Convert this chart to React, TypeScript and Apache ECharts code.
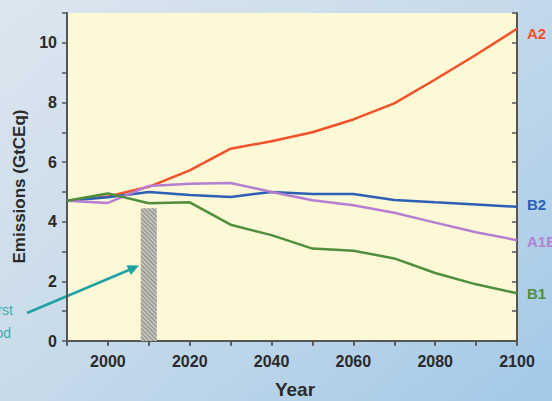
import React, { useEffect, useRef } from "react";
import * as echarts from "echarts";

const years = [1990, 2000, 2010, 2020, 2030, 2040, 2050, 2060, 2070, 2080, 2090, 2100];
const a2 = [4.7, 4.85, 5.17, 5.72, 6.45, 6.7, 7.0, 7.43, 7.97, 8.77, 9.6, 10.47];
const b2 = [4.7, 4.82, 5.0, 4.9, 4.83, 5.0, 4.93, 4.93, 4.73, 4.65, 4.58, 4.5];
const a1b = [4.7, 4.63, 5.2, 5.27, 5.3, 5.0, 4.72, 4.55, 4.3, 3.97, 3.65, 3.38];
const b1 = [4.7, 4.95, 4.62, 4.65, 3.9, 3.55, 3.1, 3.03, 2.77, 2.28, 1.9, 1.6];
const kyotoYear = 2010;
const kyotoValue = 4.45;

const FONT = "'Liberation Sans', Arial, sans-serif";

export default function App() {
  const ref = useRef<HTMLDivElement>(null);
  useEffect(() => {
    if (!ref.current) return;
    const chart = echarts.init(ref.current, undefined, { renderer: "svg" });
    const mk = (name: string, data: number[], color: string, offset: number[]) => ({
      name,
      type: "line",
      data: years.map((y, i) => [y, data[i]]),
      symbol: "none",
      lineStyle: { color, width: 2.5 },
      itemStyle: { color },
      z: 5,
      endLabel: {
        show: true,
        formatter: name,
        color,
        fontFamily: FONT,
        fontWeight: "bold",
        fontSize: 15,
        distance: 10,
        offset,
      },
    });
    const axisLine = { show: true, lineStyle: { color: "#555", width: 2 } };
    chart.setOption({
      animation: false,
      grid: {
        left: 67,
        right: 35,
        top: 13,
        bottom: 60,
        show: true,
        backgroundColor: "#fdf8d6",
        borderWidth: 0,
        containLabel: false,
        outerBoundsMode: "none",
      },
      xAxis: [
        {
          type: "value",
          min: 1990,
          max: 2100,
          interval: 10,
          position: "bottom",
          axisLine,
          axisTick: { show: true, inside: false, length: 5, lineStyle: { color: "#555", width: 1.5 } },
          splitLine: { show: false },
          axisLabel: {
            formatter: (v: number) => (v % 20 === 0 ? String(v) : ""),
            color: "#2a2a2a",
            fontFamily: FONT,
            fontWeight: "bold",
            fontSize: 16,
            margin: 12,
          },
          name: "Year",
          nameLocation: "middle",
          nameGap: 39,
          nameTextStyle: { color: "#2a2a2a", fontFamily: FONT, fontWeight: "bold", fontSize: 19, padding: [0, 0, 0, 6] },
        },
        {
          type: "value",
          min: 1990,
          max: 2100,
          interval: 10,
          position: "top",
          axisLine,
          axisTick: { show: true, inside: true, length: 4, lineStyle: { color: "#555", width: 1.5 } },
          splitLine: { show: false },
          axisLabel: { show: false },
        },
      ],
      yAxis: [
        {
          type: "value",
          min: 0,
          max: 11,
          interval: 1,
          position: "left",
          axisLine,
          axisTick: { show: true, inside: false, length: 5, lineStyle: { color: "#555", width: 1.5 } },
          splitLine: { show: false },
          axisLabel: {
            formatter: (v: number) => (v % 2 === 0 && v <= 10 ? String(v) : ""),
            color: "#2a2a2a",
            fontFamily: FONT,
            fontWeight: "bold",
            fontSize: 16,
            margin: 10,
          },
          name: "Emissions (GtCEq)",
          nameLocation: "middle",
          nameGap: 38,
          nameTextStyle: { color: "#2a2a2a", fontFamily: FONT, fontWeight: "bold", fontSize: 17, padding: [0, 19, 0, 0] },
        },
        {
          type: "value",
          min: 0,
          max: 11,
          interval: 1,
          position: "right",
          axisLine,
          axisTick: { show: true, inside: true, length: 5, lineStyle: { color: "#555", width: 1.5 } },
          splitLine: { show: false },
          axisLabel: { show: false },
        },
      ],
      series: [
        {
          type: "bar",
          data: [[kyotoYear, kyotoValue]],
          barWidth: 16,
          z: 2,
          itemStyle: {
            color: "#c4c3bb",
            decal: {
              symbol: "rect",
              symbolSize: 1,
              color: "rgba(90,90,90,0.55)",
              dashArrayX: [1, 0],
              dashArrayY: [1, 1.5],
              rotation: Math.PI / 4,
            },
          },
        },
        mk("A2", a2, "#f2512a", [0, 5]),
        mk("B2", b2, "#2c5fb6", [0, -2]),
        mk("A1B", a1b, "#b47fd3", [0, 1]),
        mk("B1", b1, "#4f8e3a", [0, 0]),
      ],
      graphic: [
        { type: "line", shape: { x1: 27, y1: 313, x2: 129, y2: 270 }, style: { stroke: "#1fa2a4", lineWidth: 2.5 } },
        {
          type: "polygon",
          shape: { points: [[139, 265.5], [126.5, 265.2], [130.8, 275]] },
          style: { fill: "#1fa2a4" },
        },
        { type: "text", x: 13, y: 310, style: { text: "First", align: "right", verticalAlign: "middle", fill: "#3aaeb0", font: "14px 'Liberation Sans', Arial, sans-serif" } },
        { type: "text", x: 11, y: 333, style: { text: "period", align: "right", verticalAlign: "middle", fill: "#3aaeb0", font: "14px 'Liberation Sans', Arial, sans-serif" } },
      ],
    });
    return () => chart.dispose();
  }, []);
  return (
    <div
      ref={ref}
      style={{
        position: "fixed",
        left: 0,
        top: 0,
        width: 552,
        height: 401,
        background: "linear-gradient(140deg, #dce6ef 0%, #c9dbea 45%, #a2c9e8 100%)",
      }}
    />
  );
}
